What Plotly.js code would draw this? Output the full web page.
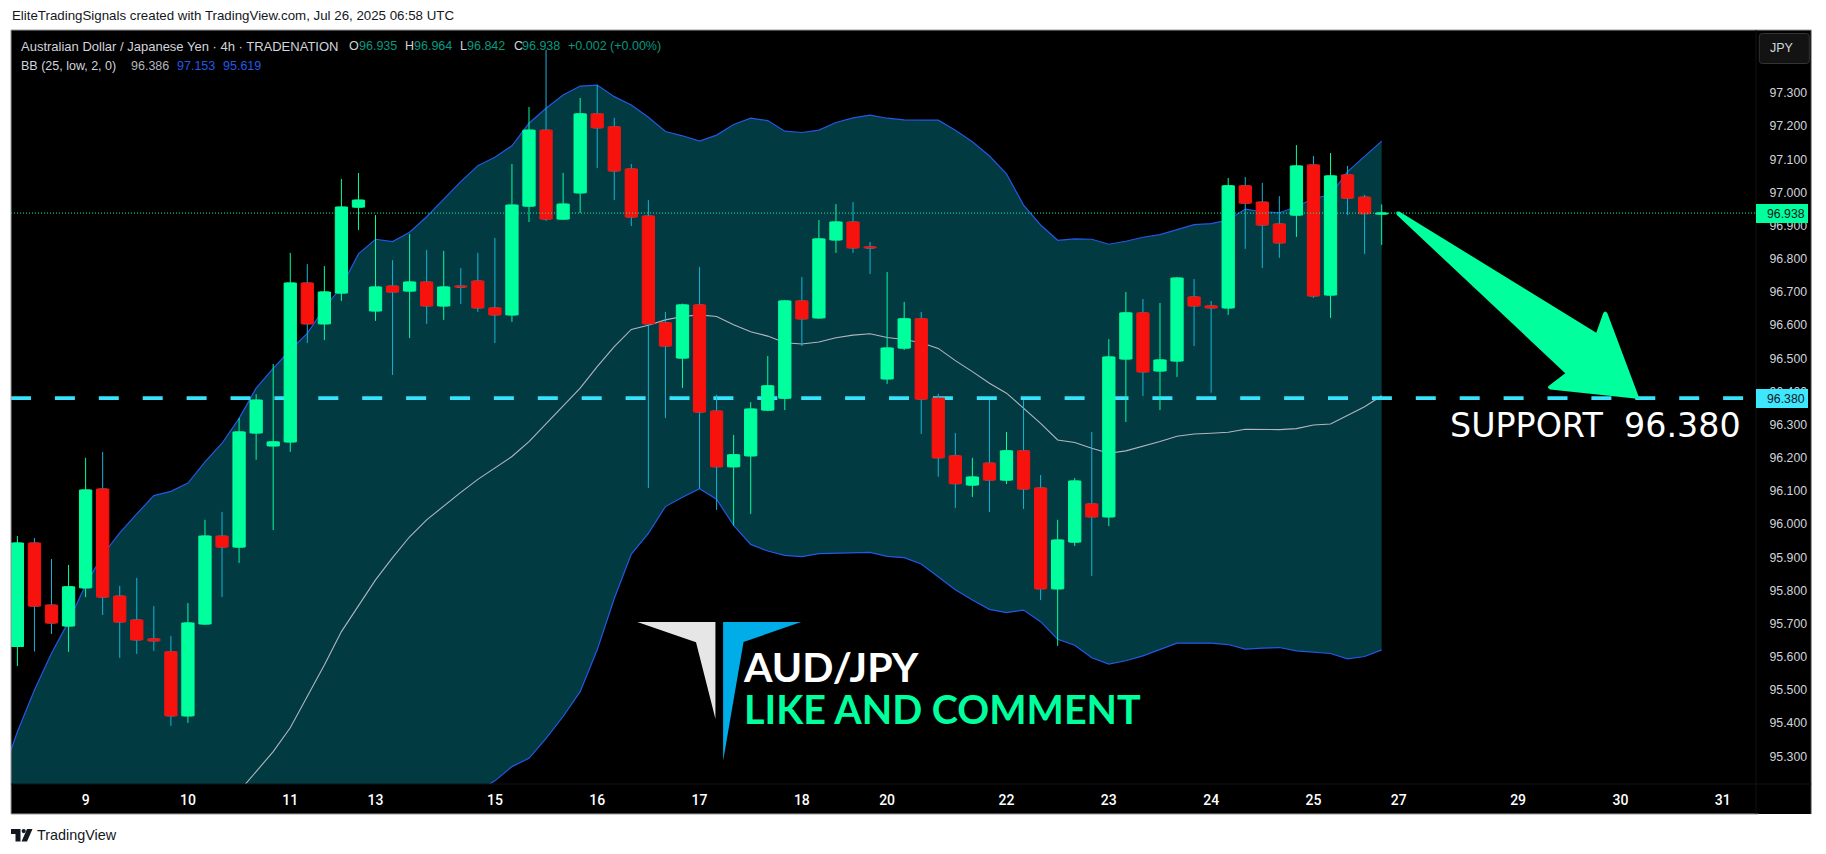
<!DOCTYPE html>
<html>
<head>
<meta charset="utf-8">
<script src="https://cdn.plot.ly/plotly-3.0.1.min.js"></script>
<style>
  html, body { margin: 0; padding: 0; background: #fff; }
</style>
</head>
<body>
<div id="chart" style="width:1826px;height:854px"></div>
<script>
// 4h candles, oldest first
const opens = [95.631,95.943,95.756,95.693,95.808,96.106,95.783,95.711,95.654,95.615,95.422,95.699,95.964,95.931,96.275,96.236,96.248,96.727,96.604,96.697,96.956,96.643,96.718,96.703,96.730,96.658,96.718,96.733,96.652,96.631,96.959,97.188,96.920,96.999,97.237,97.198,97.071,96.929,96.607,96.501,96.661,96.341,96.173,96.206,96.344,96.380,96.673,96.622,96.857,96.911,96.836,96.438,96.531,96.619,96.380,96.206,96.118,96.184,96.133,96.221,96.109,95.805,95.946,96.061,96.022,96.498,96.637,96.462,96.492,96.685,96.658,96.652,97.020,96.971,96.905,96.932,97.083,96.691,97.053,96.986,96.935];
const highs = [95.964,95.958,95.895,95.877,96.200,96.218,95.814,95.838,95.753,95.663,95.762,96.013,96.037,96.320,96.392,96.483,96.818,96.784,96.778,97.041,97.059,96.932,96.796,96.875,96.827,96.824,96.772,96.818,96.863,97.086,97.258,97.430,97.059,97.285,97.324,97.225,97.086,96.977,96.640,96.665,96.775,96.390,96.269,96.368,96.507,96.676,96.745,96.917,96.965,96.971,96.851,96.760,96.670,96.640,96.393,96.275,96.200,96.374,96.278,96.374,96.148,96.013,96.139,96.278,96.558,96.700,96.679,96.667,96.745,96.739,96.673,97.044,97.047,97.029,96.989,97.143,97.110,97.119,97.080,96.993,96.964];
const lows = [95.572,95.616,95.669,95.615,95.780,95.726,95.597,95.609,95.618,95.392,95.401,95.696,95.780,95.883,96.194,95.982,96.218,96.546,96.555,96.673,96.887,96.613,96.450,96.561,96.604,96.616,96.664,96.640,96.546,96.610,96.911,96.914,96.917,96.938,97.074,96.977,96.899,96.109,96.320,96.411,96.107,96.043,95.996,96.031,96.341,96.344,96.537,96.619,96.818,96.818,96.754,96.423,96.525,96.272,96.143,96.049,96.082,96.037,96.121,96.046,95.771,95.633,95.934,95.844,95.994,96.308,96.386,96.344,96.444,96.537,96.396,96.631,96.830,96.772,96.803,96.866,96.682,96.622,96.932,96.815,96.842];
const closes = [95.943,95.753,95.702,95.811,96.103,95.780,95.705,95.651,95.648,95.422,95.702,95.964,95.931,96.278,96.374,96.248,96.727,96.604,96.700,96.956,96.977,96.715,96.700,96.730,96.658,96.715,96.715,96.652,96.631,96.962,97.188,96.920,96.965,97.237,97.195,97.065,96.926,96.604,96.537,96.661,96.338,96.173,96.209,96.347,96.417,96.673,96.619,96.860,96.911,96.833,96.833,96.531,96.619,96.377,96.200,96.122,96.142,96.133,96.221,96.106,95.805,95.952,96.130,96.022,96.504,96.637,96.459,96.495,96.742,96.658,96.652,97.020,96.968,96.902,96.848,97.080,96.688,97.050,96.983,96.936,96.938];

// Bollinger bands. First value of each is the bar just left of the chart
const bbUpper = [95.227,95.374,95.500,95.611,95.706,95.817,95.907,95.974,96.031,96.086,96.099,96.124,96.188,96.244,96.319,96.410,96.470,96.525,96.575,96.651,96.716,96.815,96.859,96.852,96.880,96.927,96.980,97.033,97.081,97.106,97.141,97.209,97.254,97.294,97.321,97.324,97.289,97.264,97.227,97.184,97.171,97.155,97.173,97.205,97.224,97.217,97.185,97.181,97.188,97.211,97.225,97.233,97.224,97.219,97.218,97.218,97.188,97.153,97.110,97.056,96.962,96.902,96.856,96.860,96.859,96.844,96.853,96.865,96.873,96.887,96.903,96.906,96.917,96.950,96.942,96.939,96.957,96.982,96.993,97.063,97.108,97.155];
const bbBasis = [null,null,null,null,null,null,null,null,null,null,null,null,null,null,95.194,95.254,95.314,95.386,95.480,95.575,95.676,95.756,95.832,95.899,95.962,96.013,96.055,96.096,96.135,96.170,96.204,96.249,96.302,96.354,96.410,96.475,96.535,96.587,96.600,96.616,96.626,96.631,96.626,96.601,96.580,96.567,96.547,96.543,96.549,96.562,96.570,96.574,96.563,96.557,96.547,96.530,96.493,96.460,96.425,96.395,96.349,96.304,96.254,96.246,96.229,96.214,96.221,96.234,96.249,96.265,96.272,96.274,96.277,96.286,96.285,96.285,96.288,96.299,96.302,96.329,96.354,96.387];
// lower band runs off the bottom of the chart until bar 27, those values are a guess
const bbLower = [94.000,94.000,94.000,94.000,94.000,94.000,94.000,94.000,94.000,94.010,94.020,94.030,94.040,94.050,94.070,94.100,94.160,94.250,94.390,94.500,94.640,94.700,94.810,94.950,95.040,95.100,95.130,95.160,95.194,95.226,95.269,95.294,95.354,95.420,95.495,95.621,95.776,95.910,95.972,96.053,96.081,96.107,96.075,95.996,95.939,95.919,95.906,95.902,95.911,95.912,95.913,95.915,95.903,95.899,95.880,95.842,95.802,95.771,95.743,95.733,95.741,95.706,95.653,95.635,95.597,95.578,95.588,95.603,95.621,95.641,95.641,95.641,95.637,95.623,95.626,95.628,95.618,95.613,95.610,95.594,95.601,95.621];

const dayTicks = [4,10,16,21,28,34,40,46,51,58,64,70,76,81,88,94,100];
const dayLabels = ['9','10','11','13','15','16','17','18','20','22','23','24','25','27','29','30','31'];
const priceTicks = [97.3,97.2,97.1,97.0,96.9,96.8,96.7,96.6,96.5,96.4,96.3,96.2,96.1,96.0,95.9,95.8,95.7,95.6,95.5,95.4,95.3];
const priceLabels = ['97.300','97.200','97.100','97.000','96.900','96.800','96.700','96.600','96.500','96.400','96.300','96.200','96.100','96.000','95.900','95.800','95.700','95.600','95.500','95.400','95.300'];
const lastPrice = 96.938;
const supportPrice = 96.380;

const GREEN = '#00FF9D';
const RED = '#F8120E';
const WICK = '#16B4D6';
const BLUE = '#2458E6';
const CYAN = '#38E2FA';
const TEAL = '#089981';
const SANS = '"Liberation Sans", sans-serif';

const W = 1826, H = 854;
const plotL = 11, plotR = 1755.7, plotT = 30, plotB = 784;
const xRange = [-0.375, 101.95];
const yRange = [95.2165, 97.49];

// pixel position to paper coordinates, for the things that are not data
const px = v => (v - plotL) / (plotR - plotL);
const py = v => 1 - (v - plotT) / (plotB - plotT);

const bars = opens.map((_, i) => i);
const bandBars = bbUpper.map((_, i) => i - 1);
const redBars = bars.filter(i => closes[i] < opens[i]);
const greenBars = bars.filter(i => closes[i] >= opens[i]);

function bodies(idx, color) {
  return {
    type: 'bar', x: idx, base: idx.map(i => Math.min(opens[i], closes[i])), y: idx.map(i => Math.abs(opens[i] - closes[i])),
    width: 0.72, xaxis: 'x3', yaxis: 'y3', marker: { color, line: { color, width: 1 } }, hoverinfo: 'skip'
  };
}

const traces = [
  // bottom subplot: band fill, band lines, support line
  { type: 'scatter', mode: 'lines', x: bandBars, y: bbLower, line: { color: BLUE, width: 1.2 }, hoverinfo: 'skip' },
  { type: 'scatter', mode: 'lines', x: bandBars, y: bbUpper, line: { color: BLUE, width: 1.2 }, fill: 'tonexty', fillcolor: '#023A42', hoverinfo: 'skip' },
  { type: 'scatter', mode: 'lines', x: bandBars, y: bbBasis, line: { color: '#B2B5BE', width: 1.1 }, hoverinfo: 'skip' },
  { type: 'scatter', mode: 'lines', x: xRange, y: [supportPrice, supportPrice], line: { color: CYAN, width: 3.6, dash: '20px,23.9px' }, hoverinfo: 'skip' },
  // candles go above the bands, so they need their own axes
  {
    type: 'candlestick', x: bars, open: opens, high: highs, low: lows, close: closes,
    xaxis: 'x2', yaxis: 'y2', whiskerwidth: 0,
    increasing: { line: { color: GREEN, width: 1 }, fillcolor: GREEN },
    decreasing: { line: { color: WICK, width: 1 }, fillcolor: RED }
  },
  // bodies on top, the candlestick trace only gives one colour for wick and outline
  bodies(redBars, RED),
  bodies(greenBars, GREEN),
  { type: 'scatter', mode: 'lines', x: xRange, y: [lastPrice, lastPrice], xaxis: 'x3', yaxis: 'y3', line: { color: GREEN, width: 1, dash: '1px,2px' }, hoverinfo: 'skip' }
];

function rect(x0, y0, x1, y1, fill) {
  return { type: 'rect', xref: 'paper', yref: 'paper', x0: px(x0), x1: px(x1), y0: py(y0), y1: py(y1), fillcolor: fill, line: { width: 0 }, layer: 'above' };
}
function edge(x0, y0, x1, y1, color) {
  return { type: 'line', xref: 'paper', yref: 'paper', x0: px(x0), x1: px(x1), y0: py(y0), y1: py(y1), line: { color: color || '#9A9A9A', width: 1 }, layer: 'above' };
}
// points are [x, y] in pixels
function poly(points, fill) {
  const path = 'M ' + points.map(p => px(p[0]) + ' ' + py(p[1])).join(' L ') + ' Z';
  return { type: 'path', xref: 'paper', yref: 'paper', path, fillcolor: fill, line: { width: 0 }, layer: 'above' };
}
function P(x, y) { return px(x) + ' ' + py(y); }

const shapes = [
  // black panel behind the plot
  Object.assign(rect(11, 30, 1811, 814, '#000'), { layer: 'below' }),
  edge(11, 30, 1811, 30), edge(11, 30, 11, 814), edge(11, 814, 1758, 814), edge(1811, 30, 1811, 814),
  edge(11, 784, 1811, 784, '#131313'), edge(1755.7, 30, 1755.7, 814, '#131313'),
  // arrow
  {
    type: 'path', xref: 'paper', yref: 'paper', layer: 'above', fillcolor: GREEN, line: { width: 0 },
    path: 'M ' + P(1396.7, 215) + ' Q ' + P(1394.5, 211) + ' ' + P(1399, 211.5) +
      ' L ' + P(1596, 332.7) + ' L ' + P(1603, 313) + ' Q ' + P(1605, 310) + ' ' + P(1607, 313) +
      ' L ' + P(1639.3, 399) + ' L ' + P(1550, 389.5) + ' Q ' + P(1546, 387.5) + ' ' + P(1549, 385.5) +
      ' L ' + P(1565, 373.3) + ' Z'
  },
  // logo
  poly([[637.2, 622], [715.3, 622], [715.3, 718.7], [695.9, 642.3]], '#E6E6E6'),
  poly([[723, 622], [801, 622], [743.4, 642], [723, 760.7]], '#00ADE8'),
  // JPY button
  {
    type: 'path', xref: 'paper', yref: 'paper', layer: 'above', fillcolor: '#131313', line: { color: '#333', width: 1 },
    path: 'M ' + P(1762, 33.5) + ' L ' + P(1806, 33.5) + ' Q ' + P(1809, 33.5) + ' ' + P(1809, 36.5) +
      ' L ' + P(1809, 60.5) + ' Q ' + P(1809, 63.5) + ' ' + P(1806, 63.5) +
      ' L ' + P(1762, 63.5) + ' Q ' + P(1759, 63.5) + ' ' + P(1759, 60.5) +
      ' L ' + P(1759, 36.5) + ' Q ' + P(1759, 33.5) + ' ' + P(1762, 33.5) + ' Z'
  },
  // price scale labels
  rect(1755.7, 204, 1807.7, 223, GREEN),
  rect(1755.7, 389, 1807.7, 408, '#3DE8FF'),
  // TradingView mark in the footer
  poly([[11, 829], [20.5, 829], [20.5, 841.5], [15.5, 841.5], [15.5, 834], [11, 834]], '#131722'),
  { type: 'circle', xref: 'paper', yref: 'paper', x0: px(21.6), x1: px(25.8), y0: py(829), y1: py(833.2), fillcolor: '#131722', line: { width: 0 }, layer: 'above' },
  poly([[27, 829], [32.5, 829], [27, 841.5], [21.5, 841.5]], '#131722')
];

function label(text, x, y, size, color, family, weight) {
  return {
    text, xref: 'paper', yref: 'paper', x: px(x), y: py(y), xanchor: 'left', yanchor: 'middle',
    showarrow: false, borderpad: 0, font: { family: family || SANS, size, color, weight: weight || 400 }
  };
}

const annotations = [
  label('EliteTradingSignals created with TradingView.com, Jul 26, 2025 06:58 UTC', 11, 16, 13.3, '#131722'),
  label('Australian Dollar / Japanese Yen · 4h · TRADENATION', 20, 46.5, 13, '#D1D4DC'),
  label('O', 348, 46.5, 12.5, '#D1D4DC'), label('96.935', 358, 46.5, 12.5, TEAL),
  label('H', 404, 46.5, 12.5, '#D1D4DC'), label('96.964', 413, 46.5, 12.5, TEAL),
  label('L', 459, 46.5, 12.5, '#D1D4DC'), label('96.842', 466, 46.5, 12.5, TEAL),
  label('C', 512.5, 46.5, 12.5, '#D1D4DC'), label('96.938', 521, 46.5, 12.5, TEAL),
  label('+0.002 (+0.00%)', 567, 46.5, 12.5, TEAL),
  label('BB (25, low, 2, 0)', 20, 65.5, 12.5, '#D1D4DC'),
  label('96.386', 130, 65.5, 12.5, '#B2B5BE'),
  label('97.153', 176, 65.5, 12.5, BLUE),
  label('95.619', 222, 65.5, 12.5, BLUE),
  label('JPY', 1769, 48, 12.5, '#D1D4DC'),
  label('96.938', 1765.7, 213.5, 12.3, '#131722'),
  label('96.380', 1765.7, 398.5, 12.3, '#131722'),
  label('SUPPORT\u00A0\u00A096.380', 1449, 426, 33.3, '#FFFFFF', '"DejaVu Sans", sans-serif'),
  label('AUD/JPY', 742, 666, 41, '#FFFFFF', 'Lato, sans-serif', 700),
  label('LIKE AND COMMENT', 743, 708, 39.5, GREEN, 'Lato, sans-serif', 700),
  label('TradingView', 36, 835, 14.4, '#131722')
];

const hiddenX = { range: xRange, visible: false, fixedrange: true };
const hiddenY = { range: yRange, visible: false, fixedrange: true };

const layout = {
  width: W, height: H,
  margin: { l: plotL, r: W - plotR, t: plotT, b: H - plotB, pad: 0, autoexpand: false },
  paper_bgcolor: '#fff', plot_bgcolor: 'rgba(0,0,0,0)',
  showlegend: false, barmode: 'overlay',
  xaxis: {
    range: xRange, tickvals: dayTicks, ticktext: dayLabels, showgrid: false, zeroline: false, showline: false,
    ticks: 'outside', ticklen: 3, tickcolor: 'rgba(0,0,0,0)', tickfont: { family: 'Roboto, sans-serif', size: 14, color: '#fff', weight: 500 }, fixedrange: true
  },
  yaxis: {
    range: yRange, side: 'right', tickvals: priceTicks, ticktext: priceLabels, showgrid: false, zeroline: false, showline: false,
    ticks: 'outside', ticklen: 10, tickcolor: 'rgba(0,0,0,0)', tickfont: { family: SANS, size: 12.3, color: '#D1D4DC' }, fixedrange: true
  },
  xaxis2: Object.assign({ overlaying: 'x', rangeslider: { visible: false } }, hiddenX),
  yaxis2: Object.assign({ overlaying: 'y' }, hiddenY),
  xaxis3: Object.assign({ overlaying: 'x' }, hiddenX),
  yaxis3: Object.assign({ overlaying: 'y' }, hiddenY),
  shapes, annotations
};

Plotly.newPlot('chart', traces, layout, { displayModeBar: false, staticPlot: true });
</script>
</body>
</html>
